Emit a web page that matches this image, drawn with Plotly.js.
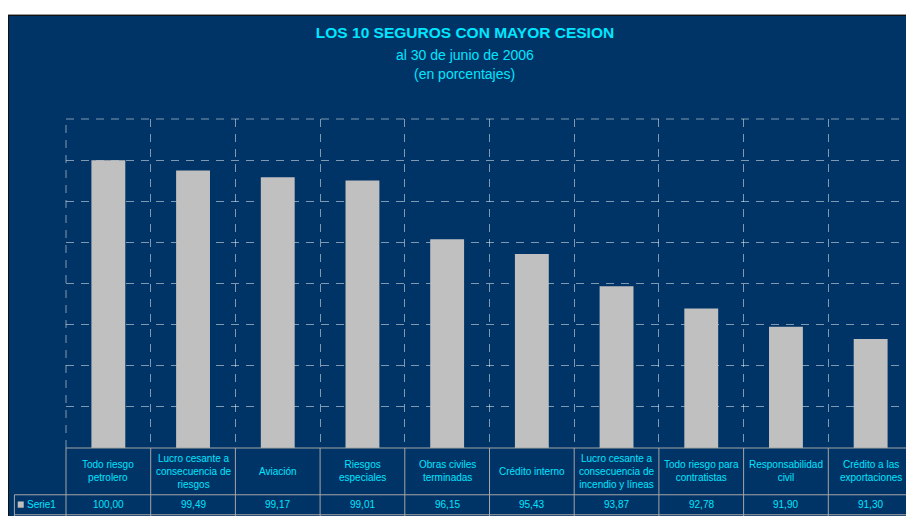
<!DOCTYPE html>
<html>
<head>
<meta charset="utf-8">
<script src="https://cdn.plot.ly/plotly-3.0.1.min.js"></script>
<style>
html,body{margin:0;padding:0;background:#fff;overflow:hidden;width:906px;height:516px;}
#wrap{position:absolute;left:8px;top:14px;border-top:1px solid #9a9a9a;}
#chart{width:912px;height:500px;border-top:1px solid #111;border-left:1px solid #111;}
</style>
</head>
<body>
<div id="wrap"><div id="chart"></div></div>
<script>
const categories = [
  "Todo riesgo<br>petrolero",
  "Lucro cesante a<br>consecuencia de<br>riesgos",
  "Aviación",
  "Riesgos<br>especiales",
  "Obras civiles<br>terminadas",
  "Crédito interno",
  "Lucro cesante a<br>consecuencia de<br>incendio y líneas",
  "Todo riesgo para<br>contratistas",
  "Responsabilidad<br>civil",
  "Crédito a las<br>exportaciones"
];
const values = [100.00, 99.49, 99.17, 99.01, 96.15, 95.43, 93.87, 92.78, 91.90, 91.30];
const seriesName = "Serie1";
const titleText = "LOS 10 SEGUROS CON MAYOR CESION";
const subtitle1 = "al 30 de junio de 2006";
const subtitle2 = "(en porcentajes)";

const BG = "#003366";
const CYAN = "#00e6ff";
const LINE = "#a6a6a6";
const GRID = "rgba(255,255,255,0.5)";
const DASH = "8px,7px";
const FONT = "Liberation Sans, Arial, sans-serif";
const fmt = v => v.toFixed(2).replace(".", ",");

const yHead = -0.0714, yVal = -0.1716, ySep = -0.1422, yBot = -0.2029, xLeft = -0.0609;

const annotations = [];
categories.forEach((c, i) => {
  annotations.push({xref:"x", yref:"paper", x:c, y:yHead, text:c, showarrow:false,
    xanchor:"center", yanchor:"middle", align:"center",
    font:{family:FONT, size:10, color:CYAN}});
  annotations.push({xref:"x", yref:"paper", x:c, y:yVal, text:fmt(values[i]), showarrow:false,
    xanchor:"center", yanchor:"middle",
    font:{family:FONT, size:10, color:CYAN}});
});
annotations.push({xref:"paper", yref:"paper", x:-0.0485, y:yVal, xanchor:"left", yanchor:"middle",
  text:seriesName, showarrow:false, font:{family:FONT, size:10, color:CYAN}});
annotations.push({xref:"paper", yref:"paper", x:0.4707, y:1.1953, text:subtitle1, showarrow:false,
  xanchor:"center", yanchor:"middle", font:{family:FONT, size:14, color:CYAN}});
annotations.push({xref:"paper", yref:"paper", x:0.4707, y:1.1376, text:subtitle2, showarrow:false,
  xanchor:"center", yanchor:"middle", font:{family:FONT, size:14, color:CYAN}});

const shapes = [];
// dashed edges of the grid (top and left) that Plotly drops at the range limits
shapes.push({type:"line", xref:"paper", yref:"paper", x0:0, y0:1, x1:1.02, y1:1,
  line:{color:GRID, width:1, dash:DASH}, layer:"below"});
shapes.push({type:"line", xref:"paper", yref:"paper", x0:0, y0:0, x1:0, y1:1,
  line:{color:GRID, width:1, dash:DASH}, layer:"below"});
const ln = (x0,y0,x1,y1) => shapes.push({type:"line", xref:"paper", yref:"paper", x0, y0, x1, y1,
  line:{color:LINE, width:1}, layer:"above"});
ln(0, 0, 1.02, 0);
ln(xLeft, ySep, 1.02, ySep);
ln(xLeft, yBot, 1.02, yBot);
ln(xLeft, ySep, xLeft, yBot - 0.01);
for (let i = 0; i <= categories.length; i++) {
  ln(i / categories.length, 0, i / categories.length, yBot - 0.01);
}
// legend key square
shapes.push({type:"rect", xref:"paper", yref:"paper", x0:-0.057, x1:-0.0499, y0:-0.1625, y1:-0.1815,
  fillcolor:"#c0c0c0", line:{width:0}, layer:"above"});

const data = [{
  type:"bar", x:categories, y:values, name:seriesName,
  marker:{color:"#c0c0c0", line:{width:0}}, width:0.4, hoverinfo:"skip"
}];

const layout = {
  width:912, height:500,
  paper_bgcolor:BG, plot_bgcolor:BG,
  margin:{l:57.3, r:7.7, t:103.3, b:67.5},
  showlegend:false,
  title:{text:"<b>" + titleText + "</b>", x:0.5, xref:"container", y:0.966, yref:"container",
    xanchor:"center", yanchor:"middle",
    font:{family:FONT, size:15.5, color:CYAN}},
  xaxis:{type:"category", range:[-0.5, 9.5], tickson:"boundaries", showgrid:true,
    gridcolor:GRID, griddash:DASH, gridwidth:1,
    showticklabels:false, ticks:"", showline:false, zeroline:false, fixedrange:true},
  yaxis:{range:[86, 102], dtick:2, tick0:86, showgrid:true,
    gridcolor:GRID, griddash:DASH, gridwidth:1,
    showticklabels:false, ticks:"", showline:false, zeroline:false, fixedrange:true},
  annotations, shapes
};

Plotly.newPlot("chart", data, layout, {staticPlot:true, displayModeBar:false});
</script>
</body>
</html>
